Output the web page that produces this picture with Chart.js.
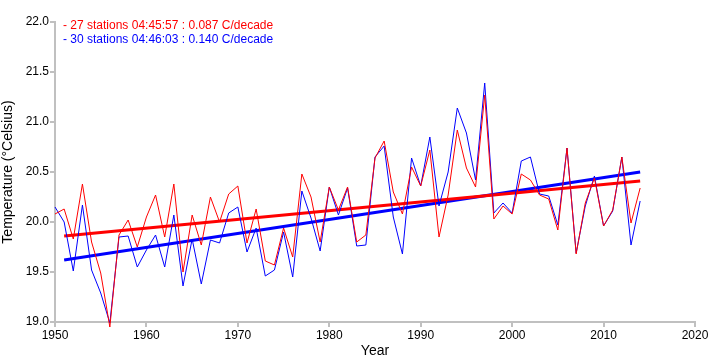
<!DOCTYPE html>
<html>
<head>
<meta charset="utf-8">
<script src="https://cdn.jsdelivr.net/npm/chart.js@4/dist/chart.umd.min.js"></script>
<style>
  html, body { margin: 0; padding: 0; background: #fff; }
  #wrap { width: 720px; height: 360px; }
</style>
</head>
<body>
<div id="wrap"><canvas id="c" width="720" height="360"></canvas></div>
<script>
// du lieu doc tu hinh
const years = [];
for (let y = 1950; y <= 2014; y++) years.push(y);

const red27 = [20.08, 20.13, 19.83, 20.38, 19.80, 19.49, 18.95, 19.87, 20.02, 19.75,
  20.05, 20.27, 19.85, 20.38, 19.50, 20.07, 19.77, 20.25, 20.00, 20.28,
  20.36, 19.79, 20.13, 19.61, 19.57, 19.94, 19.65, 20.48, 20.25, 19.80,
  20.35, 20.12, 20.35, 19.80, 19.87, 20.64, 20.81, 20.30, 20.08, 20.55,
  20.36, 20.72, 19.85, 20.27, 20.92, 20.54, 20.35, 21.27, 20.03, 20.16,
  20.08, 20.48, 20.42, 20.27, 20.23, 19.92, 20.74, 19.68, 20.19, 20.44,
  19.96, 20.12, 20.65, 19.99, 20.34];

const blue30 = [20.15, 20.00, 19.51, 20.17, 19.52, 19.29, 18.99, 19.85, 19.86, 19.55,
  19.72, 19.87, 19.55, 20.07, 19.36, 19.83, 19.38, 19.82, 19.79, 20.09,
  20.15, 19.70, 19.94, 19.46, 19.52, 19.90, 19.45, 20.31, 20.04, 19.71,
  20.35, 20.07, 20.34, 19.76, 19.77, 20.65, 20.76, 20.05, 19.68, 20.64,
  20.36, 20.85, 20.16, 20.50, 21.14, 20.89, 20.42, 21.39, 20.09, 20.19,
  20.09, 20.61, 20.65, 20.28, 20.26, 19.97, 20.74, 19.69, 20.16, 20.46,
  19.96, 20.11, 20.65, 19.77, 20.21];

const trendYears = [1951, 2014];
const redTrend = [19.86, 20.41];
const blueTrend = [19.62, 20.50];

const legendLines = [
  { text: '- 27 stations 04:45:57 : 0.087 C/decade', color: '#ff0000' },
  { text: '- 30 stations 04:46:03 : 0.140 C/decade', color: '#0000ff' }
];

function toXY(xs, ys) {
  return xs.map((x, i) => ({ x: x, y: ys[i] }));
}

const legendText = {
  id: 'legendText',
  afterDraw(chart) {
    const ctx = chart.ctx;
    ctx.save();
    ctx.font = '12px "Liberation Sans", Arial, sans-serif';
    ctx.textBaseline = 'middle';
    legendLines.forEach((l, i) => {
      ctx.fillStyle = l.color;
      ctx.fillText(l.text, 63, 26 + i * 14);
    });
    ctx.restore();
  }
};

const axisStyle = {
  border: { color: '#c0c0c0', width: 2 },
  grid: { display: true, drawOnChartArea: false, color: '#c0c0c0', tickLength: 5, lineWidth: 2 }
};

new Chart(document.getElementById('c').getContext('2d'), {
  type: 'line',
  data: {
    datasets: [
      { data: toXY(years, red27), borderColor: '#ff0000', borderWidth: 1, pointRadius: 0, tension: 0, clip: 6 },
      { data: toXY(years, blue30), borderColor: '#0000ff', borderWidth: 1, pointRadius: 0, tension: 0, clip: 6 },
      { data: toXY(trendYears, redTrend), borderColor: '#ff0000', borderWidth: 3, pointRadius: 0 },
      { data: toXY(trendYears, blueTrend), borderColor: '#0000ff', borderWidth: 3, pointRadius: 0 }
    ]
  },
  options: {
    responsive: false,
    animation: false,
    layout: { padding: { top: 22, right: 25, left: 0, bottom: 0 } },
    plugins: {
      legend: { display: false },
      tooltip: { enabled: false }
    },
    scales: {
      x: {
        type: 'linear',
        min: 1950, max: 2020,
        ...axisStyle,
        ticks: { stepSize: 10, color: '#000', font: { size: 12, family: '"Liberation Sans", Arial' }, padding: 1, callback: v => String(v), maxRotation: 0 },
        title: { display: true, text: 'Year', color: '#000', font: { size: 14, family: '"Liberation Sans", Arial' }, padding: { top: 0, bottom: 0 } },
        afterFit: s => { s.height = 38; }
      },
      y: {
        min: 19, max: 22,
        ...axisStyle,
        ticks: { stepSize: 0.5, color: '#000', font: { size: 12, family: '"Liberation Sans", Arial' }, padding: 1, callback: v => v.toFixed(1) },
        title: { display: true, text: 'Temperature (°Celsius)', color: '#000', font: { size: 14, family: '"Liberation Sans", Arial' }, padding: { top: 0, bottom: 0 } },
        afterFit: s => { s.width = 55; }
      }
    }
  },
  plugins: [legendText]
});
</script>
</body>
</html>
